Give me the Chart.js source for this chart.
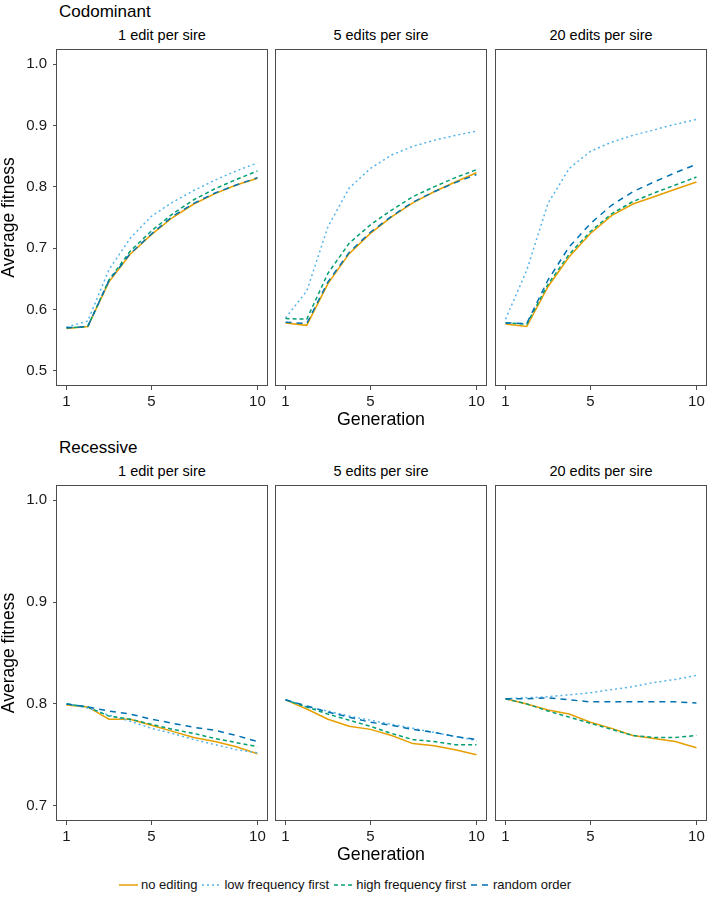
<!DOCTYPE html>
<html>
<head>
<meta charset="utf-8">
<script src="https://cdn.jsdelivr.net/npm/chart.js@4.4.1/dist/chart.umd.min.js"></script>
<style>
  html, body { margin:0; padding:0; background:#fff; }
  #wrap { position:relative; width:708px; height:904px; overflow:hidden; font-family:"Liberation Sans", Arial, Helvetica, sans-serif; color:#000; }
  canvas { position:absolute; }
  .txt { position:absolute; line-height:1; white-space:nowrap; }
  #legend { position:absolute; left:119px; top:878px; display:flex; align-items:center; font-size:13px; line-height:1; color:#111; }
  #legend .item { display:flex; align-items:center; margin-right:5px; }
  #legend svg { margin-right:3px; }
</style>
</head>
<body>
<div id="wrap"></div>
<script>
// ---------- data ----------
const generations = [1, 2, 3, 4, 5, 6, 7, 8, 9, 10];
const seriesNames = ['no editing', 'low frequency first', 'high frequency first', 'random order'];
const panelTitles = ['1 edit per sire', '5 edits per sire', '20 edits per sire'];
const rowTitles = ['Codominant', 'Recessive'];
const xTicks = [1, 5, 10];
const codominantYTicks = [0.5, 0.6, 0.7, 0.8, 0.9, 1.0];
const recessiveYTicks = [0.7, 0.8, 0.9, 1.0];

// Codominant, 1 edit per sire
const cod1NoEditing = [0.569, 0.572, 0.645, 0.690, 0.722, 0.750, 0.772, 0.789, 0.803, 0.814];
const cod1LowFreq   = [0.571, 0.581, 0.665, 0.716, 0.752, 0.775, 0.794, 0.811, 0.826, 0.839];
const cod1HighFreq  = [0.570, 0.572, 0.648, 0.695, 0.728, 0.756, 0.779, 0.797, 0.812, 0.826];
const cod1Random    = [0.570, 0.572, 0.647, 0.691, 0.723, 0.752, 0.773, 0.790, 0.803, 0.815];
// Codominant, 5 edits per sire
const cod5NoEditing = [0.578, 0.574, 0.642, 0.691, 0.724, 0.751, 0.774, 0.792, 0.808, 0.823];
const cod5LowFreq   = [0.586, 0.630, 0.735, 0.798, 0.830, 0.852, 0.866, 0.876, 0.884, 0.891];
const cod5HighFreq  = [0.585, 0.584, 0.659, 0.708, 0.738, 0.762, 0.784, 0.800, 0.815, 0.828];
const cod5Random    = [0.579, 0.577, 0.645, 0.693, 0.726, 0.752, 0.775, 0.792, 0.807, 0.820];
// Codominant, 20 edits per sire
const cod20NoEditing = [0.576, 0.572, 0.637, 0.686, 0.724, 0.753, 0.772, 0.784, 0.796, 0.808];
const cod20LowFreq   = [0.584, 0.664, 0.773, 0.830, 0.858, 0.873, 0.884, 0.893, 0.902, 0.910];
const cod20HighFreq  = [0.578, 0.576, 0.641, 0.690, 0.727, 0.756, 0.776, 0.790, 0.803, 0.816];
const cod20Random    = [0.578, 0.577, 0.648, 0.702, 0.740, 0.770, 0.792, 0.808, 0.823, 0.837];
// Recessive, 1 edit per sire
const rec1NoEditing = [0.799, 0.797, 0.785, 0.785, 0.779, 0.773, 0.767, 0.763, 0.758, 0.751];
const rec1LowFreq   = [0.800, 0.796, 0.789, 0.783, 0.776, 0.771, 0.765, 0.760, 0.755, 0.752];
const rec1HighFreq  = [0.800, 0.797, 0.788, 0.785, 0.780, 0.775, 0.771, 0.766, 0.762, 0.758];
const rec1Random    = [0.800, 0.797, 0.793, 0.790, 0.785, 0.781, 0.777, 0.774, 0.769, 0.763];
// Recessive, 5 edits per sire
const rec5NoEditing = [0.804, 0.795, 0.785, 0.778, 0.775, 0.769, 0.761, 0.759, 0.755, 0.750];
const rec5LowFreq   = [0.804, 0.797, 0.793, 0.788, 0.784, 0.780, 0.776, 0.772, 0.768, 0.764];
const rec5HighFreq  = [0.804, 0.797, 0.790, 0.784, 0.778, 0.771, 0.765, 0.763, 0.760, 0.760];
const rec5Random    = [0.804, 0.798, 0.792, 0.787, 0.782, 0.779, 0.775, 0.772, 0.768, 0.765];
// Recessive, 20 edits per sire
const rec20NoEditing = [0.805, 0.800, 0.794, 0.790, 0.782, 0.776, 0.769, 0.766, 0.763, 0.757];
const rec20LowFreq   = [0.805, 0.806, 0.807, 0.809, 0.811, 0.814, 0.817, 0.821, 0.824, 0.828];
const rec20HighFreq  = [0.805, 0.800, 0.793, 0.787, 0.781, 0.775, 0.769, 0.767, 0.767, 0.769];
const rec20Random    = [0.805, 0.805, 0.806, 0.804, 0.802, 0.802, 0.802, 0.802, 0.802, 0.801];

// ---------- styles ----------
const seriesColors = ['#E69F00', '#56B4E9', '#009E73', '#0072B2'];
const seriesDash = [[], [2, 3], [4, 3], [6, 5]];
const FONT = '"Liberation Sans", Arial, Helvetica, sans-serif';
const AXIS_COLOR = '#4d4d4d';

const panels = [
  [[cod1NoEditing, cod1LowFreq, cod1HighFreq, cod1Random],
   [cod5NoEditing, cod5LowFreq, cod5HighFreq, cod5Random],
   [cod20NoEditing, cod20LowFreq, cod20HighFreq, cod20Random]],
  [[rec1NoEditing, rec1LowFreq, rec1HighFreq, rec1Random],
   [rec5NoEditing, rec5LowFreq, rec5HighFreq, rec5Random],
   [rec20NoEditing, rec20LowFreq, rec20HighFreq, rec20Random]]
];
const rowYTicks = [codominantYTicks, recessiveYTicks];
const rowYRange = [[0.475, 1.025], [0.685, 1.015]];

// layout
const boxLeft = [57, 276, 496];
const boxW = 210;
const boxTop = [49, 485];
const boxH = [337, 336];
const PADT = 5, PADR = 2, PADL = 5, XAXIS_H = 44, YAXIS_W = 57;

const wrap = document.getElementById('wrap');

const boxPlugin = {
  id: 'panelBox',
  afterDraw(chart) {
    const a = chart.chartArea, ctx = chart.ctx;
    ctx.save();
    ctx.strokeStyle = AXIS_COLOR;
    ctx.lineWidth = 1;
    ctx.strokeRect(a.left - 0.5, a.top + 0.5, a.right - a.left + 1, a.bottom - a.top - 1);
    ctx.restore();
  }
};

function addText(text, left, top, size, extra) {
  const d = document.createElement('div');
  d.className = 'txt';
  d.textContent = text;
  d.style.left = left + 'px';
  d.style.top = top + 'px';
  d.style.fontSize = size + 'px';
  if (extra) Object.assign(d.style, extra);
  wrap.appendChild(d);
  return d;
}

for (let r = 0; r < 2; r++) {
  addText(rowTitles[r], 59, r === 0 ? 2.6 : 438.6, 17);
  for (let c = 0; c < 3; c++) {
    const isLeft = c === 0;
    const isMid = c === 1;
    addText(panelTitles[c], boxLeft[c], r === 0 ? 28 : 464, 14.5, { width: boxW + 'px', textAlign: 'center' });

    const cv = document.createElement('canvas');
    const left = isLeft ? 0 : boxLeft[c] - PADL;
    const width = isLeft ? YAXIS_W + boxW + PADR : PADL + boxW + PADR;
    const top = boxTop[r] - PADT;
    const height = PADT + boxH[r] + XAXIS_H;
    cv.width = width; cv.height = height;
    cv.style.left = left + 'px'; cv.style.top = top + 'px';
    cv.style.width = width + 'px'; cv.style.height = height + 'px';
    wrap.appendChild(cv);

    const series = panels[r][c];
    const datasets = series.map((arr, i) => ({
      label: seriesNames[i],
      data: generations.map((g, k) => ({ x: g, y: arr[k] })),
      borderColor: seriesColors[i],
      backgroundColor: seriesColors[i],
      borderDash: seriesDash[i],
      borderWidth: 1.5,
      pointRadius: 0,
      tension: 0,
      fill: false,
      order: 4 - i
    }));

    const yTicks = rowYTicks[r];
    new Chart(cv, {
      type: 'line',
      data: { datasets },
      options: {
        responsive: false,
        animation: false,
        devicePixelRatio: 1,
        layout: { padding: { left: isLeft ? 0 : PADL, right: PADR, top: PADT, bottom: 0 } },
        plugins: { legend: { display: false }, tooltip: { enabled: false }, title: { display: false } },
        scales: {
          x: {
            type: 'linear',
            min: 0.55, max: 10.45,
            afterBuildTicks: s => { s.ticks = xTicks.map(v => ({ value: v })); },
            afterFit: s => { s.height = XAXIS_H; s.paddingLeft = 0; s.paddingRight = 0; },
            ticks: {
              autoSkip: false, maxRotation: 0, padding: 3,
              font: { family: FONT, size: 15 }, color: '#1a1a1a',
              callback: v => String(v)
            },
            grid: { display: true, drawOnChartArea: false, drawTicks: true, tickLength: 4, tickColor: AXIS_COLOR, tickWidth: 1 },
            border: { display: false },
            title: {
              display: isMid, text: 'Generation',
              font: { family: FONT, size: 17.8, lineHeight: 1 }, color: '#000',
              padding: { top: 0, bottom: 1 }
            }
          },
          y: {
            type: 'linear',
            display: isLeft,
            min: rowYRange[r][0], max: rowYRange[r][1],
            afterBuildTicks: s => { s.ticks = yTicks.map(v => ({ value: v })); },
            afterFit: s => {
              s.paddingTop = 0; s.paddingBottom = 0;
              if (isLeft) s.width = YAXIS_W;
            },
            ticks: {
              autoSkip: false, padding: 6,
              font: { family: FONT, size: 15 }, color: '#1a1a1a',
              callback: v => Number(v).toFixed(1)
            },
            grid: { display: true, drawOnChartArea: false, drawTicks: true, tickLength: 4, tickColor: AXIS_COLOR, tickWidth: 1 },
            border: { display: false },
            title: {
              display: true, text: 'Average fitness',
              font: { family: FONT, size: 17.5, lineHeight: 1 }, color: '#000',
              padding: { top: 0, bottom: 0 }
            }
          }
        }
      },
      plugins: [boxPlugin]
    });
  }
}

// ---------- legend ----------
const legend = document.createElement('div');
legend.id = 'legend';
seriesNames.forEach((name, i) => {
  const item = document.createElement('div');
  item.className = 'item';
  const dash = seriesDash[i].length ? seriesDash[i].join(',') : 'none';
  item.innerHTML = '<svg width="19" height="10"><line x1="0" y1="5" x2="19" y2="5" stroke="' + seriesColors[i] +
    '" stroke-width="1.5" stroke-dasharray="' + dash + '"/></svg><span>' + name + '</span>';
  legend.appendChild(item);
});
wrap.appendChild(legend);
</script>
</body>
</html>
